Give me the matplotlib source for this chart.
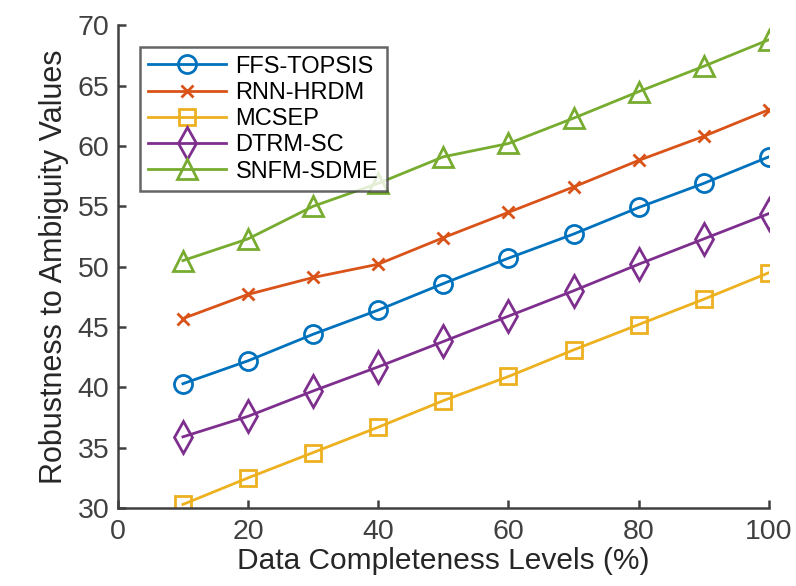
import numpy as np
import matplotlib.pyplot as plt

plt.rcParams['font.family'] = ['Liberation Sans', 'DejaVu Sans']

levels = [10, 20, 30, 40, 50, 60, 70, 80, 90, 100]
ffs_topsis = [40.3, 42.2, 44.4, 46.4, 48.6, 50.7, 52.7, 54.9, 56.9, 59.1]
rnn_hrdm = [45.7, 47.7, 49.1, 50.2, 52.4, 54.5, 56.6, 58.8, 60.8, 63.0]
mcsep = [30.3, 32.5, 34.6, 36.7, 38.9, 40.9, 43.1, 45.2, 47.3, 49.5]
dtrm_sc = [35.9, 37.6, 39.7, 41.7, 43.8, 45.9, 48.0, 50.2, 52.3, 54.4]
snfm_sdme = [50.5, 52.3, 55.0, 56.9, 59.1, 60.2, 62.3, 64.5, 66.6, 68.8]

# name, values, colour, marker, marker size
series = [
    ("FFS-TOPSIS", ffs_topsis, "#0072BD", "o", 13),
    ("RNN-HRDM", rnn_hrdm, "#D95319", "x", 9),
    ("MCSEP", mcsep, "#EDB120", "s", 12),
    ("DTRM-SC", dtrm_sc, "#7E2F8E", "d", 16),
    ("SNFM-SDME", snfm_sdme, "#77AC30", "^", 14),
]

fig = plt.figure(figsize=(7.96, 5.86), dpi=100)
ax = fig.add_axes([0.148, 0.133, 0.818, 0.824])

for name, vals, col, mk, ms in series:
    ax.plot(levels, vals, color=col, marker=mk, lw=2, ms=ms,
            mfc="none", mew=2, label=name)

ax.set_xlim(0, 100)
ax.set_ylim(30, 70)
ax.set_xticks(np.arange(0, 101, 20))
ax.set_yticks(np.arange(30, 71, 5))
for s in ["top", "right"]:
    ax.spines[s].set_visible(False)
for s in ["left", "bottom"]:
    ax.spines[s].set_color("#404040")
    ax.spines[s].set_linewidth(1.8)
ax.tick_params(direction="in", length=6, width=1.8, colors="#404040", labelsize=20.5)
ax.tick_params(axis="x", pad=8)
ax.tick_params(axis="y", pad=6)
ax.set_xlabel("Data Completeness Levels (%)", fontsize=21.5, color="#262626", labelpad=1)
ax.set_ylabel("Robustness to Ambiguity Values", fontsize=22, color="#262626", labelpad=6)

leg = ax.legend(loc="upper left", bbox_to_anchor=(0.034, 0.954), borderaxespad=0,
                fontsize=17, frameon=True, fancybox=False, edgecolor="#404040",
                handlelength=3.3, borderpad=0.35, labelspacing=0.18, handletextpad=0.4)
leg.get_frame().set_linewidth(1.8)

fig.savefig("out.png", dpi=100)
